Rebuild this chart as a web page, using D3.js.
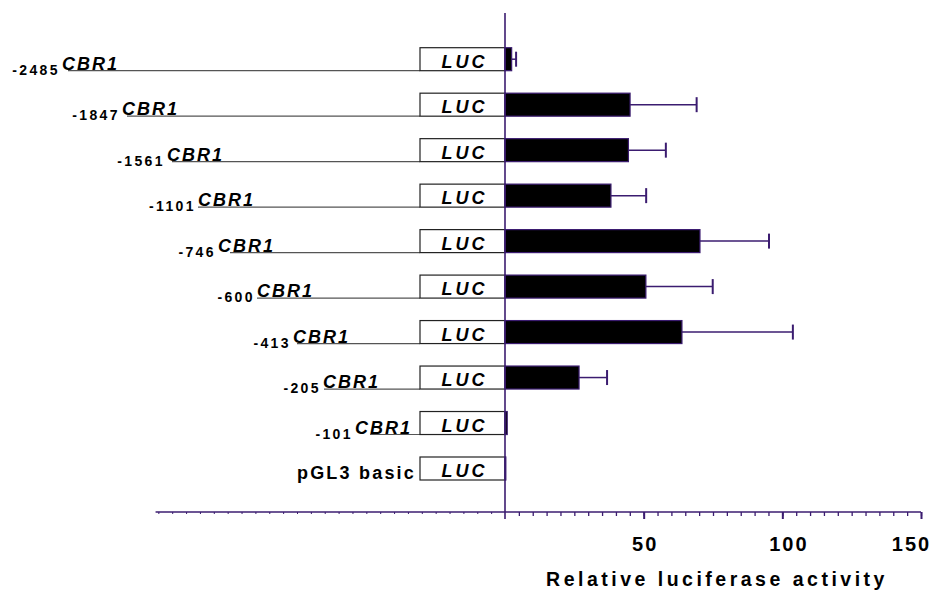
<!DOCTYPE html>
<html>
<head>
<meta charset="utf-8">
<script src="https://cdn.jsdelivr.net/npm/d3@7"></script>
<style>
  body { margin: 0; background: #fff; }
  svg { display: block; font-family: "Liberation Sans", Arial, sans-serif; }
</style>
</head>
<body>
<div class="chart"></div>
<script>
// promoter constructs, top to bottom
const constructs = ['-2485', '-1847', '-1561', '-1101', '-746', '-600', '-413', '-205', '-101', 'pGL3 basic'];
const activity = [2.4, 45.1, 44.5, 38.2, 70.3, 50.8, 63.8, 26.7, 0.8, 0.3];
const errors = [1.6, 24.0, 13.5, 12.7, 24.9, 24.1, 40.0, 10.1, 0, 0];
const majorTicks = [50, 100, 150];
const geneLabel = 'CBR1';
const reporterLabel = 'LUC';
const axisTitle = 'Relative luciferase activity';

// hand-placed layout of the promoter drawings (x of the CBR1 label / start of the line)
const cbrX = [62, 122, 167, 198, 218, 257, 293, 323, 355, null];
const lineX = [68, 127, 172, 198, 230, 257, 297, 324, 370, null];
// small nudges of the tick labels, as placed in the original
const tickDx = [1, 6, -10];

(() => {
    const width = 937,
          height = 596,
          purple = '#3b1c70',
          barH = 23,
          boxLeft = 420;

    const svg = d3.select('.chart')
        .append('svg')
        .attr('width', width)
        .attr('height', height);

    const x = d3.scaleLinear()
        .domain([0, 150])
        .range([505, 921]);

    const y = d3.scalePoint()
        .domain(constructs)
        .range([59.2, 468.5]);

    const axisY = 512;

    // promoter line + labels
    const rows = svg.selectAll('.row')
        .data(constructs)
        .enter().append('g')
        .attr('class', 'row');

    rows.filter((d, i) => lineX[i] !== null)
        .append('line')
        .attr('x1', (d, i) => lineX[i])
        .attr('x2', boxLeft)
        .attr('y1', d => y(d) + barH / 2)
        .attr('y2', d => y(d) + barH / 2)
        .attr('stroke', '#555')
        .attr('stroke-width', 1.2);

    rows.filter((d, i) => cbrX[i] !== null)
        .append('text')
        .attr('x', (d, i) => cbrX[i] - 2)
        .attr('y', d => y(d) + barH / 2 + 4)
        .attr('text-anchor', 'end')
        .attr('font-size', 14)
        .attr('font-weight', 'bold')
        .attr('letter-spacing', 2.4)
        .text(d => d);

    rows.filter((d, i) => cbrX[i] !== null)
        .append('text')
        .attr('x', (d, i) => cbrX[i])
        .attr('y', d => y(d) + barH / 2 - 1)
        .attr('font-size', 18)
        .attr('font-weight', 'bold')
        .attr('font-style', 'italic')
        .attr('letter-spacing', 2)
        .text(geneLabel);

    rows.filter((d, i) => cbrX[i] === null)
        .append('text')
        .attr('x', boxLeft - 4)
        .attr('y', d => y(d) + barH / 2 - 1)
        .attr('text-anchor', 'end')
        .attr('font-size', 18)
        .attr('font-weight', 'bold')
        .attr('letter-spacing', 2.2)
        .text(d => d);

    // LUC boxes
    rows.append('rect')
        .attr('x', boxLeft)
        .attr('y', d => y(d) - barH / 2)
        .attr('width', x(0) - boxLeft)
        .attr('height', barH)
        .attr('fill', '#fff')
        .attr('stroke', '#222')
        .attr('stroke-width', 1.2);

    rows.append('text')
        .attr('x', (boxLeft + x(0)) / 2 + 2)
        .attr('y', d => y(d) + barH / 2 - 3)
        .attr('text-anchor', 'middle')
        .attr('font-size', 18)
        .attr('font-weight', 'bold')
        .attr('font-style', 'italic')
        .attr('letter-spacing', 3)
        .text(reporterLabel);

    // error bars
    const errEnd = d => { const k = constructs.indexOf(d); return x(activity[k] + errors[k]); };
    const err = rows.filter((d, i) => errors[i] > 0);
    err.append('line')
        .attr('x1', d => x(activity[constructs.indexOf(d)]))
        .attr('x2', errEnd)
        .attr('y1', d => y(d))
        .attr('y2', d => y(d))
        .attr('stroke', purple)
        .attr('stroke-width', 1.5);
    err.append('line')
        .attr('x1', errEnd)
        .attr('x2', errEnd)
        .attr('y1', d => y(d) - 7.5)
        .attr('y2', d => y(d) + 7.5)
        .attr('stroke', purple)
        .attr('stroke-width', 2);

    // bars
    rows.append('rect')
        .attr('x', x(0))
        .attr('y', d => y(d) - barH / 2)
        .attr('width', (d, i) => x(activity[i]) - x(0))
        .attr('height', barH)
        .attr('fill', '#000')
        .attr('stroke', purple)
        .attr('stroke-width', 1.2);

    // horizontal axis: left extension with tiny ticks, right side with scale
    const xLeft = d3.scaleLinear().domain([-126, 0]).range([x(-126), x(0)]);

    svg.append('line')
        .attr('x1', x(-126))
        .attr('x2', x(150))
        .attr('y1', axisY)
        .attr('y2', axisY)
        .attr('stroke', purple)
        .attr('stroke-width', 1.6);

    const leftAxis = svg.append('g')
        .attr('transform', `translate(0,${axisY})`)
        .call(d3.axisBottom(xLeft).tickValues(d3.range(-125, 0, 5)).tickSize(2).tickFormat(''));
    leftAxis.select('.domain').remove();
    leftAxis.selectAll('line').attr('stroke', purple);

    const minorAxis = svg.append('g')
        .attr('transform', `translate(0,${axisY})`)
        .call(d3.axisBottom(x).tickValues(d3.range(5, 151, 5)).tickSize(4).tickFormat(''));
    minorAxis.select('.domain').remove();
    minorAxis.selectAll('line').attr('stroke', purple).attr('stroke-width', 1.3);

    const majorAxis = svg.append('g')
        .attr('transform', `translate(0,${axisY})`)
        .call(d3.axisBottom(x).tickValues(majorTicks).tickSize(7).tickPadding(18));
    majorAxis.select('.domain').remove();
    majorAxis.selectAll('line').attr('stroke', purple).attr('stroke-width', 2);
    majorAxis.selectAll('text')
        .attr('fill', '#000')
        .attr('dx', (d, i) => tickDx[i])
        .attr('font-family', '"Liberation Sans", Arial, sans-serif')
        .attr('font-size', 20)
        .attr('font-weight', 'bold')
        .attr('letter-spacing', 2);

    // vertical axis
    svg.append('line')
        .attr('x1', x(0))
        .attr('x2', x(0))
        .attr('y1', 13)
        .attr('y2', 519)
        .attr('stroke', purple)
        .attr('stroke-width', 1.6);

    svg.append('text')
        .attr('x', 717)
        .attr('y', 586)
        .attr('text-anchor', 'middle')
        .attr('font-size', 19.5)
        .attr('font-weight', 'bold')
        .attr('letter-spacing', 3.5)
        .text(axisTitle);
})();
</script>
</body>
</html>
